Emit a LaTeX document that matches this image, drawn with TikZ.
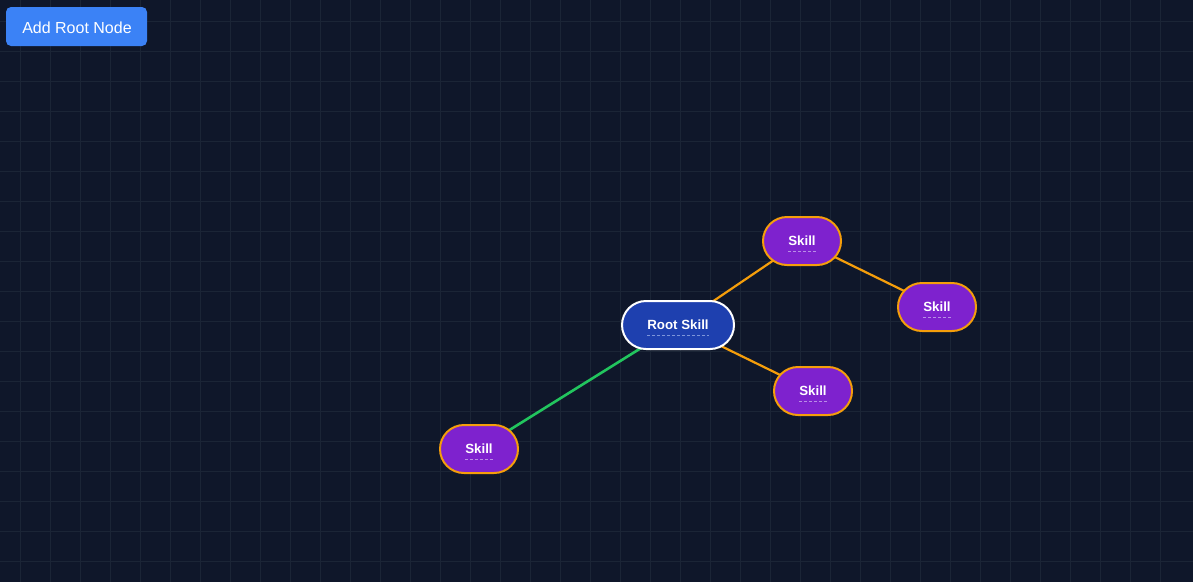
\documentclass[tikz,border=0pt]{standalone}
\usepackage{fontspec}
\setmainfont{Liberation Sans}
\usetikzlibrary{shapes.misc}
\definecolor{bgc}{HTML}{0F172A}
\definecolor{gridc}{HTML}{1B2536}
\definecolor{btnc}{HTML}{3B82F6}
\definecolor{rootc}{HTML}{1E40AF}
\definecolor{skillc}{HTML}{7E22CE}
\definecolor{amberc}{HTML}{F59E0B}
\definecolor{greenc}{HTML}{22C55E}
\definecolor{ulroot}{HTML}{7D95DA}
\definecolor{ulskill}{HTML}{B98DE6}
\tikzset{
  gridline/.style={draw=gridc, line width=1pt},
  btn/.style={fill=btnc, rounded corners=5pt},
  pill/.style={rounded rectangle, minimum height=48pt, inner sep=0pt, line width=2pt, text=white, font=\fontsize{13.3}{15}\selectfont\bfseries},
  rootnode/.style={pill, fill=rootc, draw=white, minimum width=112pt},
  skillnode/.style={pill, fill=skillc, draw=amberc, minimum width=78pt},
  amberedge/.style={draw=amberc, line width=2.2pt},
  greenedge/.style={draw=greenc, line width=2.6pt},
  ulr/.style={draw=ulroot, line width=0.7pt, dash pattern=on 3pt off 2pt},
  uls/.style={draw=ulskill, line width=0.7pt, dash pattern=on 3pt off 2pt},
}
\begin{document}
\begin{tikzpicture}[x=1pt,y=-1pt]
\path[fill=bgc] (0,0) rectangle (1193,582);
\useasboundingbox (0,0) rectangle (1193,582);
\foreach \gx in {20.5,50.5,...,1190} {\draw[gridline] (\gx,0) -- (\gx,582);}
\foreach \gy in {21,51,...,580} {\draw[gridline] (0,\gy) -- (1193,\gy);}
% button
\path[btn] (6,7) rectangle (147,46);
\node[text=white, font=\fontsize{16}{18}\selectfont, inner sep=0pt] (btnlabel) at (77,27.5) {Add Root Node};
% node positions
\coordinate (pr) at (678,325);
\coordinate (p1) at (802,241);
\coordinate (p2) at (937,307);
\coordinate (p3) at (813,391);
\coordinate (p4) at (479,449);
% edges
\draw[amberedge] (pr) -- (p1);
\draw[amberedge] (p1) -- (p2);
\draw[amberedge] (pr) -- (p3);
\draw[greenedge] (pr) -- (p4);
% nodes
\node[rootnode] (root) at (pr) {Root Skill};
\node[skillnode] (s1) at (p1) {Skill};
\node[skillnode] (s2) at (p2) {Skill};
\node[skillnode] (s3) at (p3) {Skill};
\node[skillnode] (s4) at (p4) {Skill};
% dashed underlines
\draw[ulr] ([xshift=-31pt,yshift=-10pt]root.center) -- ([xshift=31pt,yshift=-10pt]root.center);
\foreach \n in {s1,s2,s3,s4} {
  \draw[uls] ([xshift=-14pt,yshift=-10pt]\n.center) -- ([xshift=14pt,yshift=-10pt]\n.center);
}
\end{tikzpicture}
\end{document}
